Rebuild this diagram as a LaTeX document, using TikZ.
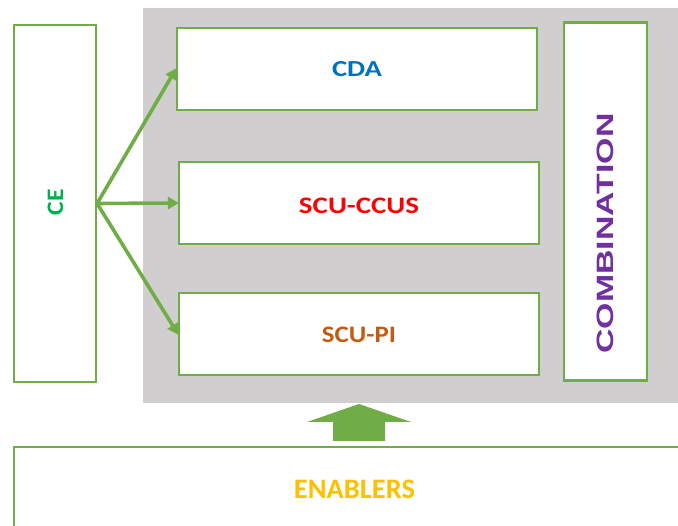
\documentclass[tikz,border=0pt]{standalone}
\usepackage{fontspec}
\setmainfont{Carlito}
\newfontfamily\arialbold{Liberation Sans}[BoldFont=* Bold]
\usetikzlibrary{arrows.meta}
\definecolor{frame}{RGB}{112,173,71}
\definecolor{panel}{RGB}{208,206,206}
\definecolor{cecol}{RGB}{0,176,80}
\definecolor{cdacol}{RGB}{0,112,192}
\definecolor{ccuscol}{RGB}{255,0,0}
\definecolor{picol}{RGB}{197,90,17}
\definecolor{combcol}{RGB}{112,48,160}
\definecolor{enabcol}{RGB}{255,192,0}
\tikzset{
  box/.style={draw=frame, line width=2.2pt, fill=white, inner sep=0pt},
  lbl/.style={inner sep=0pt, font=\bfseries},
  link/.style={draw=frame, line width=3.6pt, -{Triangle[length=11pt,width=12pt]}, shorten >=-1pt},
}
\begin{document}
\begin{tikzpicture}[x=1pt,y=-1pt]
\useasboundingbox (0,0) rectangle (678,526);
\clip (0,0) rectangle (678,526);
% grey panel behind the three middle blocks
\fill[panel] (143,8) rectangle (690,403);
% boxes
\node[box, minimum width=82pt, minimum height=357pt] (ce) at (55,203.5) {};
\node[box, minimum width=360pt, minimum height=82pt] (cda) at (357,69) {};
\node[box, minimum width=360pt, minimum height=82pt] (ccus) at (359,203) {};
\node[box, minimum width=360pt, minimum height=82pt] (pi) at (359,334) {};
\node[box, minimum width=83pt, minimum height=358pt] (comb) at (605.5,201.5) {};
\node[box, minimum width=700pt, minimum height=120pt] (enab) at (364,507) {};
% labels
\node[lbl, text=cecol, rotate=90] (celbl) at (55.5,202.5) {\resizebox{26pt}{15.5pt}{CE}};
\node[lbl, text=cdacol] (cdalbl) at (357,69.5) {\resizebox{50pt}{15pt}{CDA}};
\node[lbl, text=ccuscol] (ccuslbl) at (359,205.5) {\resizebox{120pt}{15.5pt}{SCU-CCUS}};
\node[lbl, text=picol] (pilbl) at (359,334.5) {\resizebox{74pt}{15.5pt}{SCU-PI}};
\node[lbl, text=combcol, rotate=90] (comblbl) at (605,233.5) {\resizebox{240pt}{16.5pt}{\arialbold\bfseries COMBINATION}};
\node[lbl, text=enabcol] (enablbl) at (354.5,489) {\resizebox{121pt}{18.5pt}{ENABLERS}};
% arrows from CE to the three blocks
\draw[link] (ce.east) -- (cda.west);
\draw[link] (ce.east) -- (ccus.west);
\draw[link] (ce.east) -- (pi.west);
% block arrow from the enablers up to the panel
\fill[frame] (333,441) -- (333,422) -- (307,422) -- (359,404) -- (411,422) -- (385,422) -- (385,441) -- cycle;
\end{tikzpicture}
\end{document}
